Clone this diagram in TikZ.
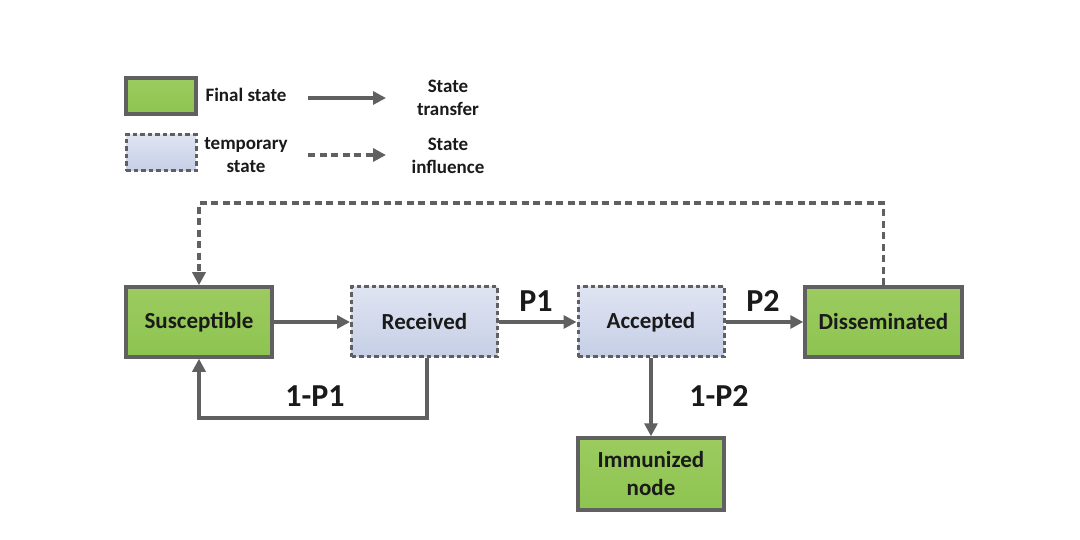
\documentclass[tikz,border=0pt]{standalone}
\usepackage{fontspec}
\setmainfont{Carlito}
\usetikzlibrary{arrows.meta}
\definecolor{lg}{HTML}{606060}
\definecolor{gfill}{HTML}{8DC450}
\definecolor{gfilltop}{HTML}{9CCB60}
\definecolor{ttop}{HTML}{DFE4F2}
\definecolor{tbot}{HTML}{C6CFE6}
\definecolor{txt}{HTML}{1A1A1A}
\tikzset{
  finalbox/.style={draw=lg, line width=3.5pt, top color=gfilltop, bottom color=gfill, minimum width=146pt, minimum height=70pt, inner sep=0pt, align=center, font=\bfseries\fontsize{23}{28}\selectfont, text=txt},
  tempbox/.style={draw=lg, line width=3pt, dash pattern=on 4.5pt off 3pt, top color=ttop, bottom color=tbot, minimum width=146pt, minimum height=70pt, inner sep=0pt, align=center, font=\bfseries\fontsize{23}{28}\selectfont, text=txt},
  conn/.style={draw=lg, line width=3.5pt, -{Triangle[length=13pt,width=13pt]}},
  dconn/.style={draw=lg, line width=3.5pt, dash pattern=on 7pt off 4.5pt, -{Triangle[length=13pt,width=13pt]}},
  plabel/.style={font=\bfseries\fontsize{32}{36}\selectfont, text=txt},
  legtext/.style={font=\bfseries\fontsize{19}{23}\selectfont, text=txt, align=center},
}
\begin{document}
\begin{tikzpicture}[x=1pt,y=-1pt]
\useasboundingbox (0,0) rectangle (1080,540);
% legend
\node[finalbox, minimum width=70pt, minimum height=36pt] (lf) at (161,96) {};
\node[tempbox, minimum width=70pt, minimum height=36pt] (lt) at (161,153) {};
\node[legtext] (lft) at (246,95) {Final state};
\node[legtext] (ltt) at (246,155) {temporary\\state};
\coordinate (la1) at (308,98);
\coordinate (la2) at (386,98);
\coordinate (lb1) at (308,155);
\coordinate (lb2) at (386,155);
\draw[conn] (la1) -- (la2);
\draw[dconn] (lb1) -- (lb2);
\node[legtext] (lst) at (448,98) {State\\transfer};
\node[legtext] (lsi) at (448,156) {State\\influence};
% main nodes
\node[finalbox] (sus) at (199,322) {Susceptible};
\node[tempbox] (rec) at (424.5,322) {Received};
\node[tempbox] (acc) at (651,322) {Accepted};
\node[finalbox, minimum width=157pt] (dis) at (883.5,322) {Disseminated};
\node[finalbox, minimum height=72pt] (imm) at (651,474) {Immunized\\node};
% connectors
\draw[conn] (sus) -- (rec);
\draw[conn] (rec) -- (acc);
\draw[conn] (acc) -- (dis);
\draw[conn] (acc) -- (imm);
\draw[conn] (rec.south -| 427,0) -- (427,418) -- (199,418) -- (sus.south);
\draw[dconn] (dis.north) -- (883.5,203) -- (199,203) -- (sus.north);
% labels
\node[plabel] (p1) at (536,301) {P1};
\node[plabel] (p2) at (763,301) {P2};
\node[plabel] (q1) at (315,396) {1-P1};
\node[plabel] (q2) at (719,396) {1-P2};
\end{tikzpicture}
\end{document}
